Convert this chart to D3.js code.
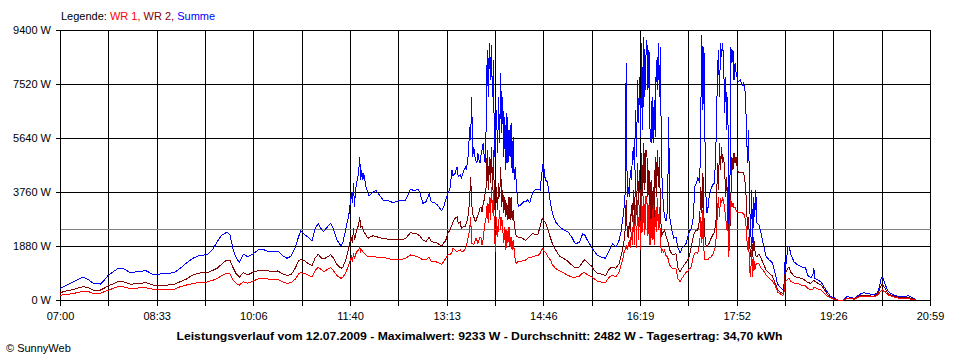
<!DOCTYPE html>
<html><head><meta charset="utf-8">
<script src="https://cdn.jsdelivr.net/npm/d3@7"></script>
<style>
body{margin:0;background:#fff;}
svg{display:block;font-family:"Liberation Sans",Arial,sans-serif;}
</style></head><body>
<svg id="c" width="960" height="360"></svg>
<script>
const times = [
"07:00","07:06","07:13","07:19","07:23","07:27","07:32","07:39","07:42","07:46",
"07:51","07:56","08:02","08:08","08:15","08:23","08:30","08:36","08:44","08:51",
"08:56","09:02","09:08","09:15","09:22","09:28","09:32","09:36","09:41","09:44",
"09:47","09:50","09:53","09:57","10:01","10:06","10:11","10:16","10:21","10:25",
"10:30","10:35","10:39","10:43","10:47","10:50","10:52","10:56","11:00","11:03",
"11:06","11:09","11:12","11:14","11:17","11:21","11:24","11:27","11:31","11:33",
"11:36","11:38","11:39","11:41","11:42","11:43","11:44","11:45","11:46","11:48",
"11:49","11:50","11:51","11:52","11:53","11:55","11:57","11:58","12:02","12:05",
"12:08","12:12","12:17","12:21","12:26","12:33","12:38","12:42","12:45","12:47",
"12:50","12:53","12:56","12:58","13:02","13:04","13:08","13:10","13:12","13:14",
"13:16","13:18","13:19","13:21","13:23","13:24","13:26","13:27","13:29","13:30",
"13:31","13:32","13:33","13:34","13:35","13:36","13:37","13:38","13:39","13:40",
"13:41","13:42","13:43","13:44","13:45","13:46","13:47","13:48","13:49","13:50",
"13:51","13:52","13:53","13:54","13:55","13:56","13:57","13:58","13:59","14:00",
"14:01","14:02","14:03","14:04","14:05","14:06","14:07","14:08","14:09","14:10",
"14:11","14:12","14:13","14:14","14:15","14:16","14:17","14:18","14:19","14:20",
"14:21","14:22","14:24","14:27","14:29","14:31","14:33","14:36","14:38","14:41",
"14:43","14:45","14:46","14:48","14:50","14:53","14:55","14:58","15:02","15:06",
"15:10","15:14","15:17","15:21","15:24","15:26","15:29","15:32","15:35","15:38",
"15:42","15:46","15:50","15:53","15:56","15:59","16:01","16:03","16:04","16:05",
"16:06","16:07","16:08","16:09","16:10","16:11","16:12","16:13","16:14","16:15",
"16:16","16:17","16:18","16:19","16:20","16:21","16:22","16:23","16:24","16:25",
"16:26","16:27","16:28","16:29","16:30","16:31","16:32","16:33","16:34","16:35",
"16:36","16:37","16:38","16:39","16:40","16:41","16:42","16:43","16:44","16:45",
"16:46","16:47","16:48","16:50","16:52","16:54","16:56","16:58","17:00","17:02",
"17:04","17:06","17:07","17:08","17:09","17:10","17:11","17:12","17:13","17:14",
"17:15","17:16","17:17","17:18","17:19","17:20","17:21","17:22","17:23","17:24",
"17:25","17:26","17:28","17:30","17:31","17:32","17:33","17:34","17:35","17:36",
"17:37","17:38","17:39","17:40","17:41","17:42","17:43","17:44","17:45","17:46",
"17:47","17:48","17:49","17:50","17:51","17:52","17:53","17:54","17:56","17:58",
"17:59","18:00","18:01","18:02","18:03","18:04","18:05","18:06","18:07","18:08",
"18:09","18:10","18:11","18:12","18:14","18:16","18:18","18:21","18:24","18:27",
"18:30","18:32","18:34","18:37","18:38","18:39","18:40","18:42","18:43","18:45",
"18:48","18:51","18:55","18:59","19:01","19:04","19:06","19:07","19:08","19:11",
"19:14","19:17","19:20","19:23","19:26","19:28","19:30","19:35","19:36","19:39",
"19:42","19:46","19:49","19:52","19:55","19:58","20:02","20:05","20:08","20:10",
"20:12","20:13","20:14","20:16","20:18","20:21","20:26","20:31","20:35","20:38",
"20:41","20:44","20:45"
];
const summe = [
400,505,637,749,790,714,581,557,661,836,
975,1097,1079,940,992,1020,881,905,916,975,
1104,1288,1452,1556,1577,1800,2054,2263,2357,2263,
1741,1462,1313,1591,1507,1601,1741,1758,1689,1689,
1706,1532,1452,1532,1845,2193,2402,2280,2159,2065,
2472,2663,2472,2378,2507,2670,2437,2089,1880,2019,
2552,2855,3074,3715,3367,4063,3248,3830,4063,4411,
4989,4178,4526,4178,4411,3945,3715,3621,3770,3805,
3656,3457,3457,3388,3447,3447,3854,3805,3865,3736,
3367,3422,3690,3422,3367,3307,3109,3248,3481,3715,
3854,4526,4317,4411,4641,4293,4352,4237,4456,4561,
4630,4526,4874,5118,6034,5570,7078,4989,5337,4989,
4874,4759,5107,4874,4759,5048,5222,5456,5048,4759,
6034,8704,7078,8937,7659,8878,7078,8356,4989,5570,
6615,5107,7078,5456,7893,5804,7078,4989,6382,4526,
6500,4759,5919,4989,6152,4411,5685,4178,4641,4063,
3596,3248,3307,3412,3422,3481,3388,3760,3830,3854,
3830,4526,4804,4178,4108,3367,2994,2716,2541,2437,
2367,2159,1950,2019,2298,2263,2054,1880,1706,1567,
1497,1452,1741,1967,1845,2054,2367,2900,3248,3715,
8241,3586,3934,3586,4526,4178,4979,5327,4526,6615,
4979,7659,6162,7764,5675,8947,5919,9156,7067,8460,
9052,7311,8704,5919,5466,7067,5466,6963,5675,8356,
7311,8947,7067,8808,4770,3830,3238,2890,2785,2785,
3307,6371,2890,2437,2159,2193,1810,1636,1810,1880,
1984,2263,2402,2437,2507,2716,2959,3934,4004,4073,
4282,4178,4073,6615,9233,6615,8808,5570,3586,3029,
3238,3586,3899,4039,4073,4770,5919,7903,8704,7067,
8947,8460,8947,8356,6510,7764,5919,7067,2437,3586,
8808,8251,8704,7659,8251,7903,7764,7590,7659,7485,
7555,7416,7207,5919,4770,5919,3586,2193,3830,1984,
3586,2890,3830,2681,2611,2333,1984,1508,1393,1288,
870,557,470,348,348,1323,1219,1845,1880,1567,
1323,1236,1159,1114,870,766,870,1104,755,696,
627,453,279,129,87,45,0,0,24,115,
94,59,139,209,254,233,198,198,233,435,
766,790,731,522,331,233,150,115,115,150,
94,35,0
];
const wr2 = [
254,313,366,435,463,435,348,348,400,487,
557,644,627,547,574,602,522,522,522,557,
637,731,870,940,950,1044,1114,1253,1393,1375,
1114,905,801,957,870,964,1027,1044,1010,999,
1010,905,860,888,1114,1358,1417,1358,1253,1194,
1462,1591,1462,1427,1480,1577,1445,1236,1104,1149,
1452,1741,1915,2204,1974,2496,2089,2263,2437,2611,
2900,2531,2576,2507,2378,2263,2148,2176,2239,2211,
2169,2141,2113,2089,2089,2131,2343,2315,2287,2228,
2089,2030,2183,2030,2002,1974,1880,1984,2072,2322,
2437,2611,2726,2844,2900,2670,2726,2496,2552,2542,
2552,2716,2785,3064,3481,4293,3367,2994,2900,2785,
2726,2855,2959,3064,3203,3248,3074,3307,3481,3725,
3945,5222,3830,4989,4063,5337,3830,5222,3367,2900,
3945,3133,4063,3596,4641,3248,3830,3018,3596,2900,
3367,2785,3596,2785,3596,2785,3133,2670,2437,2204,
2204,2193,2193,2124,2065,2148,2228,2322,2263,2298,
2552,2844,2785,2716,2507,2159,1950,1741,1514,1445,
1340,1201,1114,1149,1323,1393,1288,1201,1044,940,
905,846,1097,1149,1104,1253,1532,1845,2089,2437,
3481,2367,2159,2716,2367,3307,2716,3830,2576,4526,
2959,4770,3307,4526,2507,5118,3621,5466,3830,5222,
5118,3586,4526,2716,4178,2716,3934,2507,4979,3586,
5222,3934,4979,3307,2193,2333,2367,2437,2263,2159,
2089,1915,1741,1601,1567,1626,1114,975,1114,1219,
1323,1427,1532,1741,1856,2089,2263,2333,2402,2437,
2437,2611,2890,3934,3029,4422,2890,2204,1915,1856,
1915,1974,2159,2298,2333,2611,2900,4770,3830,5466,
4526,5327,4770,4979,4526,3586,4282,2890,1741,2437,
3586,4979,4526,5118,4770,4979,4630,4456,4456,4456,
4456,4282,4004,3377,2437,2890,1984,1497,2193,1497,
2193,1741,1532,1497,1601,1462,1288,1044,930,836,
557,348,289,233,279,870,975,1114,1138,957,
836,783,755,679,609,581,644,696,644,581,
522,383,191,87,45,24,0,0,17,70,
63,35,104,157,174,157,139,139,209,331,
522,547,487,400,244,174,122,80,87,94,
52,24,0
];
const wr1 = [
164,191,226,279,313,296,233,233,279,331,
400,463,453,393,418,428,373,373,373,383,
463,522,574,616,627,696,749,853,930,905,
696,574,522,637,581,661,731,755,731,721,
721,627,581,609,731,905,950,923,853,811,
1027,1138,1062,985,1044,1125,1010,853,755,801,
985,1184,1288,1508,1333,1626,1462,1567,1671,1741,
1856,1682,1741,1671,1636,1567,1508,1508,1508,1497,
1480,1473,1445,1393,1393,1445,1567,1532,1507,1462,
1393,1410,1487,1333,1333,1313,1243,1340,1452,1567,
1567,1671,1800,1741,1682,1706,1741,1682,1682,1741,
1810,1856,2089,2263,2437,2900,1974,1950,1915,2019,
2148,2089,1974,2089,2193,2159,1915,2089,2437,2716,
2900,3367,2670,3596,2785,3945,3018,3830,2204,1682,
2900,2204,2611,3133,2437,2900,2437,1974,2552,1741,
2437,1974,2552,1856,2204,1741,2089,1741,1393,1278,
1323,1323,1333,1375,1393,1452,1480,1508,1532,1556,
1626,1800,1741,1671,1532,1393,1219,1097,1010,940,
853,801,790,836,940,950,870,818,749,661,
627,602,818,853,811,957,1201,1462,1671,1741,
1915,1741,1880,2089,1810,2367,1915,2959,1915,3307,
1810,3481,2089,3307,1741,3621,2367,3621,2263,3621,
3481,2228,3307,1915,2855,2089,3307,1915,3133,2367,
3551,2437,3238,2089,1636,1741,1671,1741,1567,1532,
1507,1323,1219,1114,1104,1104,731,637,766,870,
975,1010,1114,1114,1159,1393,1532,1626,1671,1671,
1636,1810,1984,2890,1984,3133,1741,1393,1393,1393,
1393,1462,1507,1626,1741,1856,2263,3133,3586,2900,
3551,3377,3551,3481,3133,2890,2437,2681,1507,2681,
3481,3238,3377,3203,3238,3133,3064,3029,3029,3029,
2994,2959,2785,2437,1741,2193,1044,801,1741,801,
1497,1044,1219,1288,1253,1114,1044,870,755,661,
487,279,226,157,209,592,661,731,755,644,
592,574,522,487,407,348,383,442,435,383,
348,244,122,87,28,17,0,0,17,45,
45,28,87,115,122,115,115,115,157,233,
338,348,313,279,191,139,87,45,45,45,
28,10,0
];
const xLabels = ["07:00","08:33","10:06","11:40","13:13","14:46","16:19","17:52","19:26","20:59"];
const yTicks = [0,1880,3760,5640,7520,9400];
const average = 2482;
const legendItems = [["Legende: ","#000000"],["WR 1, ","#ff0000"],["WR 2, ","#800000"],["Summe","#0000ff"]];
const seriesList = [["Summe", summe, "#0000ff"], ["WR 2", wr2, "#800000"], ["WR 1", wr1, "#ff0000"]];
const titleText = "Leistungsverlauf vom 12.07.2009 - Maximalwert: 9233 W - Durchschnitt: 2482 W - Tagesertrag: 34,70 kWh";
const footerText = "\u00A9 SunnyWeb";

const svg = d3.select("#c");
const parse = d3.timeParse("%H:%M");
const t0 = parse(xLabels[0]), t1 = parse(xLabels[xLabels.length - 1]);
const x = d3.scaleTime().domain([t0, t1]).range([60, 930]);
const y = d3.scaleLinear().domain([0, 9400]).range([300, 30]);
const px = v => Math.round(v) + 0.5;

// vertical grid lines (18 equal divisions, every other labelled)
const nDiv = (xLabels.length - 1) * 2;
const gridTimes = d3.range(nDiv + 1).map(i => new Date(+t0 + (t1 - t0) * i / nDiv));
const grid = svg.append("g").attr("shape-rendering", "crispEdges");
grid.selectAll("line.v").data(gridTimes).join("line")
  .attr("x1", d => px(x(d))).attr("x2", d => px(x(d)))
  .attr("y1", px(y(9400))).attr("y2", px(y(0)) + 5)
  .attr("stroke", "#000").attr("stroke-width", 1);
grid.selectAll("line.h").data(yTicks).join("line")
  .attr("x1", px(x(t0)) - 5).attr("x2", px(x(t1)))
  .attr("y1", d => px(y(d))).attr("y2", d => px(y(d)))
  .attr("stroke", "#000").attr("stroke-width", 1);

// average line
svg.append("line").attr("shape-rendering", "crispEdges")
  .attr("x1", px(x(t0))).attr("x2", px(x(t1)))
  .attr("y1", px(y(average))).attr("y2", px(y(average)))
  .attr("stroke", "#808080").attr("stroke-width", 1);

// axis labels
svg.selectAll("text.yl").data(yTicks).join("text")
  .attr("x", 51).attr("y", d => y(d) + 4)
  .attr("text-anchor", "end").attr("font-size", 11).attr("fill", "#000")
  .text(d => d + " W");
svg.selectAll("text.xl").data(xLabels).join("text")
  .attr("x", (d, i) => x(gridTimes[i * 2]) + 0.5).attr("y", 320)
  .attr("text-anchor", "middle").attr("font-size", 11).attr("fill", "#000")
  .text(d => d);

// series
const line = d3.line().x((d, i) => x(parse(times[i]))).y(d => y(d));
svg.append("g").selectAll("path").data(seriesList).join("path")
  .attr("d", d => line(d[1]))
  .attr("fill", "none").attr("stroke", d => d[2]).attr("stroke-width", 1)
  .attr("shape-rendering", "crispEdges");

// legend
const lg = svg.append("text").attr("x", 61).attr("y", 20).attr("font-size", 11);
lg.selectAll("tspan").data(legendItems).join("tspan")
  .attr("fill", d => d[1]).text(d => d[0]).style("white-space", "pre");
lg.attr("xml:space", "preserve");

// title & footer
svg.append("text").attr("x", 479.5).attr("y", 340).attr("text-anchor", "middle")
  .attr("font-size", 11).attr("font-weight", "bold")
  .attr("textLength", 606).attr("lengthAdjust", "spacingAndGlyphs")
  .text(titleText);
svg.append("text").attr("x", 6).attr("y", 352).attr("font-size", 11).text(footerText);
</script>
</body></html>
